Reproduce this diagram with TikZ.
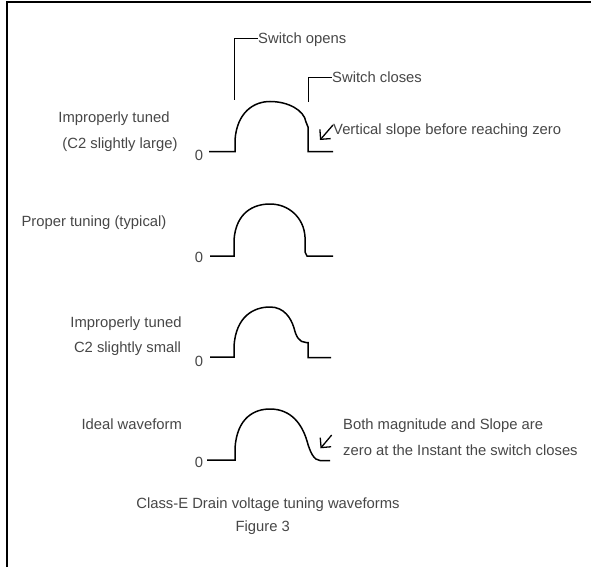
\documentclass[tikz,border=0pt]{standalone}
\usepackage{fontspec}
\setmainfont{Liberation Sans}
\usetikzlibrary{arrows.meta}
\begin{document}
\begin{tikzpicture}[x=1pt,y=-1pt,
  lbl/.style={inner sep=0pt,text=black!72,font=\fontsize{14.8}{17}\selectfont},
  lblw/.style={lbl,anchor=base west,text height=10.6pt,text depth=0pt},
  lblc/.style={lbl,anchor=base},
  wave/.style={line width=1.5pt,black,line join=miter},
  marker/.style={line width=1.5pt,black},
  pointer/.style={line width=1.3pt,black,-{Straight Barb[angle=90:10pt]}},
  frameline/.style={line width=2pt,black}]
\useasboundingbox (0,0) rectangle (591,567);
\fill[white] (0,0) rectangle (591,567);

% outer frame (left and top edges)
\draw[frameline] (6.5,567) -- (6.5,2.5) -- (591,2.5);

% ---------- waveform 1: improperly tuned, C2 slightly large ----------
\node[lblc] (l1a) at (114,123) {Improperly tuned};
\node[lblc] (l1b) at (120,148) {(C2 slightly large)};
\node[lblc] (z1) at (199,160.5) {0};
\draw[wave] (209,151.7) -- (235,151.7) -- (235,140)
  .. controls (237,112) and (254,101.5) .. (270,101.5)
  .. controls (288,101.5) and (304,110) .. (306,122)
  -- (308,127) -- (308,151.7) -- (333,151.7);

\node[lblw] (opens) at (258,44) {Switch opens};
\coordinate (opensfoot) at (234.3,100);
\draw[marker] (opensfoot) |- (opens.west);

\node[lblw] (closes) at (332,83) {Switch closes};
\coordinate (closesfoot) at (308.3,101.7);
\draw[marker] (closesfoot) |- (closes.west);

\node[lblw] (vslope) at (333,135) {Vertical slope before reaching zero};
\coordinate (vtail) at (333,125);
\coordinate (vtip) at (320,140);
\draw[pointer] (vtail) -- (vtip);

% ---------- waveform 2: proper tuning ----------
\node[lblc] (l2) at (94,226) {Proper tuning (typical)};
\node[lblc] (z2) at (199,262) {0};
\draw[wave] (210,256) -- (234,256) -- (234,240)
  .. controls (236,212) and (254,204) .. (270,204)
  .. controls (289,204) and (304,218) .. (305,237)
  -- (305,252) -- (307,256) -- (333,256);

% ---------- waveform 3: improperly tuned, C2 slightly small ----------
\node[lblc] (l3a) at (126,327.5) {Improperly tuned};
\node[lblc] (l3b) at (127.5,352) {C2 slightly small};
\node[lblc] (z3) at (199,366) {0};
\draw[wave] (210,357) -- (234,357) -- (234,346)
  .. controls (236,316) and (254,307) .. (270,307)
  .. controls (284,307) and (291,318) .. (294,328)
  .. controls (296,336) and (299,342.5) .. (306,342.5)
  -- (308,342.5) -- (308,357.5) -- (331,357.5);

% ---------- waveform 4: ideal ----------
\node[lblc] (l4) at (131.7,429.5) {Ideal waveform};
\node[lblc] (z4) at (199,467) {0};
\draw[wave] (207,460) -- (235,460) -- (235,448)
  .. controls (237,418) and (254,409) .. (270,409)
  .. controls (291,409) and (302,424) .. (307,441)
  .. controls (310,452) and (314,460.5) .. (320,460.5)
  -- (330,460.5);

\node[lblw] (both1) at (343,429.5) {Both magnitude and Slope are};
\node[lblw] (both2) at (343,455.5) {zero at the Instant the switch closes};
\coordinate (btail) at (331.7,435);
\coordinate (btip) at (320.5,448.3);
\draw[pointer] (btail) -- (btip);

% ---------- caption ----------
\node[lblc] (cap1) at (268,508) {Class-E Drain voltage tuning waveforms};
\node[lblc] (cap2) at (262.7,531.5) {Figure 3};
\end{tikzpicture}
\end{document}
